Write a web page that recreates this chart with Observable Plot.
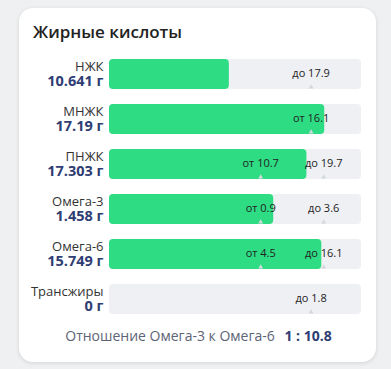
<!DOCTYPE html>
<html>
<head>
<meta charset="utf-8">
<script src="https://cdn.jsdelivr.net/npm/d3@7"></script>
<script src="https://cdn.jsdelivr.net/npm/@observablehq/plot@0.6"></script>
<style>
  html, body { margin: 0; padding: 0; }
  body { width: 391px; height: 369px; background: #eff0f2; position: relative; overflow: hidden; font-family: "Open Sans", sans-serif; }
  #card { position: absolute; left: 19px; top: 8px; width: 357px; height: 354px; background: #fff; border-radius: 14px; box-shadow: 0 1px 4px rgba(0,0,0,0.12); }
  #title { position: absolute; left: 33px; top: 20px; font-size: 17px; font-weight: 600; color: #222; }
  #chart { position: absolute; left: 0; top: 0; }
  #footer { position: absolute; left: 0; width: 391px; top: 326px; text-align: center; font-size: 14px; color: #5c6375; padding-left: 6px; box-sizing: border-box; }
  #footer b { color: #2f3d73; margin-left: 6px; }
</style>
</head>
<body>
<div id="card"></div>
<div id="title">Жирные кислоты</div>
<div id="chart"></div>
<div id="footer">Отношение Омега-3 к Омега-6 <b>1 : 10.8</b></div>
<script>
const names  = ["НЖК", "МНЖК", "ПНЖК", "Омега-3", "Омега-6", "Трансжиры"];
const values = [10.641, 17.19, 17.303, 1.458, 15.749, 0];
const mins   = [null, 16.1, 10.7, 0.9, 4.5, null];
const maxs   = [17.9, null, 19.7, 3.6, 16.1, 1.8];

// piecewise normalisation of each row onto the track
function norm(v, lo, hi) {
  let f;
  if (lo != null && hi != null) {
    f = v <= lo ? (v / lo) * 0.6 : 0.6 + (v - lo) / (hi - lo) * 0.25;
  } else {
    const ref = lo != null ? lo : hi;
    f = (v / ref) * 0.8;
  }
  return Math.min(1, f);
}

const rows = names.map((n, i) => ({
  name: n, value: values[i], frac: norm(values[i], mins[i], maxs[i]),
  label: values[i] + " г"
}));
const markers = [];
names.forEach((n, i) => {
  if (mins[i] != null) markers.push({name: n, pos: norm(mins[i], mins[i], maxs[i]), label: "от " + mins[i]});
  if (maxs[i] != null) markers.push({name: n, pos: norm(maxs[i], mins[i], maxs[i]), label: "до " + maxs[i]});
});

const chart = Plot.plot({
  width: 391, height: 369,
  marginLeft: 109, marginRight: 30, marginTop: 59, marginBottom: 55,
  x: {domain: [0, 1], axis: null},
  y: {domain: names, axis: null, paddingInner: 1/3, paddingOuter: 0, round: false},
  style: {background: "transparent", fontFamily: "'Open Sans', sans-serif", overflow: "visible"},
  marks: [
    Plot.barX(rows, {y: "name", x1: d => 0, x2: d => 1, fill: "#eff0f3", rx: 4}),
    Plot.barX(rows.filter(d => d.frac > 0), {y: "name", x1: d => 0, x2: "frac", fill: "#2edc84", rx: 4}),
    Plot.dot(markers, {x: "pos", y: "name", symbol: "triangle", r: 1.8, dy: 12.5, fill: "#d4d7dc", stroke: null}),
    Plot.text(markers, {x: "pos", y: "name", text: "label", fontSize: 11, fill: "#222", dy: -1}),
    Plot.text(rows, {x: d => 0, y: "name", text: "name", textAnchor: "end", dx: -6, dy: -7.5, fontSize: 13, fill: "#333"}),
    Plot.text(rows, {x: d => 0, y: "name", text: "label", textAnchor: "end", dx: -6, dy: 6.5, fontSize: 14.5, fontWeight: "bold", fill: "#2f3d73"})
  ]
});
document.getElementById("chart").appendChild(chart);
</script>
</body>
</html>
